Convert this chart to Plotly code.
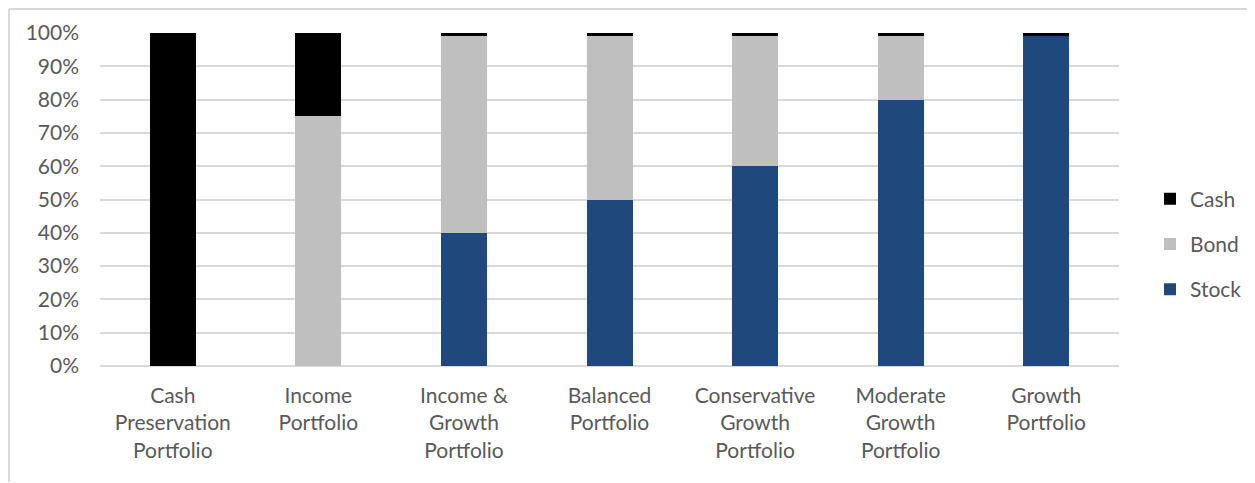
import plotly.graph_objects as go

categories = [
    "Cash<br>Preservation<br>Portfolio",
    "Income<br>Portfolio",
    "Income &<br>Growth<br>Portfolio",
    "Balanced<br>Portfolio",
    "Conservative<br>Growth<br>Portfolio",
    "Moderate<br>Growth<br>Portfolio",
    "Growth<br>Portfolio",
]
stock = [0, 0, 40, 50, 60, 80, 99]
bond = [0, 75, 59, 49, 39, 19, 0]
cash = [100, 25, 1, 1, 1, 1, 1]
y_ticks = [0, 10, 20, 30, 40, 50, 60, 70, 80, 90, 100]
y_tick_labels = [f"{v}%" for v in y_ticks]

font_family = "Lato"
text_color = "#595959"

fig = go.Figure()
for name, vals, color, rank in [("Stock", stock, "#1F497D", 3), ("Bond", bond, "#BFBFBF", 2), ("Cash", cash, "#000000", 1)]:
    fig.add_trace(go.Bar(
        x=categories, y=vals, name=name, legendgroup=name, legendrank=rank,
        marker=dict(color=color, line=dict(width=0)),
    ))

# page body has an 8px offset on every side
OFF = 8
W, H = 1255 - 2 * OFF, 483 - OFF - 1
ml, mt = 100 - OFF, 33 - OFF
pw, ph = 1019, 333
mr = W - ml - pw
mb = H - mt - ph

def px_x(p):
    return (p - OFF - ml) / pw

def px_y(p):
    return (mt + ph - (p - OFF)) / ph

border = dict(color="#D9D9D9", width=2)

fig.update_layout(
    width=W, height=H,
    barmode="stack",
    bargap=0.684,
    margin=dict(l=ml, r=mr, t=mt, b=mb, autoexpand=False),
    paper_bgcolor="white",
    plot_bgcolor="white",
    font=dict(family=font_family, size=21, color=text_color),
    showlegend=True,
    legend=dict(
        traceorder="grouped",
        tracegroupgap=15,
        x=px_x(1150), xanchor="left",
        y=px_y(244), yanchor="middle",
        font=dict(family=font_family, size=21, color=text_color),
        itemwidth=30,
        bgcolor="rgba(0,0,0,0)",
    ),
    xaxis=dict(
        showgrid=False, showline=False, ticks="",
        tickfont=dict(family=font_family, size=21, color=text_color),
        ticklabelstandoff=15,
    ),
    yaxis=dict(
        range=[0, 100],
        tickvals=y_ticks, ticktext=y_tick_labels,
        showgrid=True, gridcolor="#D9D9D9", gridwidth=1.5,
        zeroline=True, zerolinecolor="#D9D9D9", zerolinewidth=1.5,
        showline=False, ticks="",
        tickfont=dict(family=font_family, size=21, color=text_color),
        ticklabelstandoff=20,
    ),
    shapes=[
        dict(type="line", xref="paper", yref="paper",
             x0=px_x(9), x1=px_x(9), y0=px_y(500), y1=px_y(9),
             line=border, layer="below"),
        dict(type="line", xref="paper", yref="paper",
             x0=px_x(9), x1=px_x(1300), y0=px_y(9), y1=px_y(9),
             line=border, layer="below"),
    ],
)

fig.write_html("out.html")
